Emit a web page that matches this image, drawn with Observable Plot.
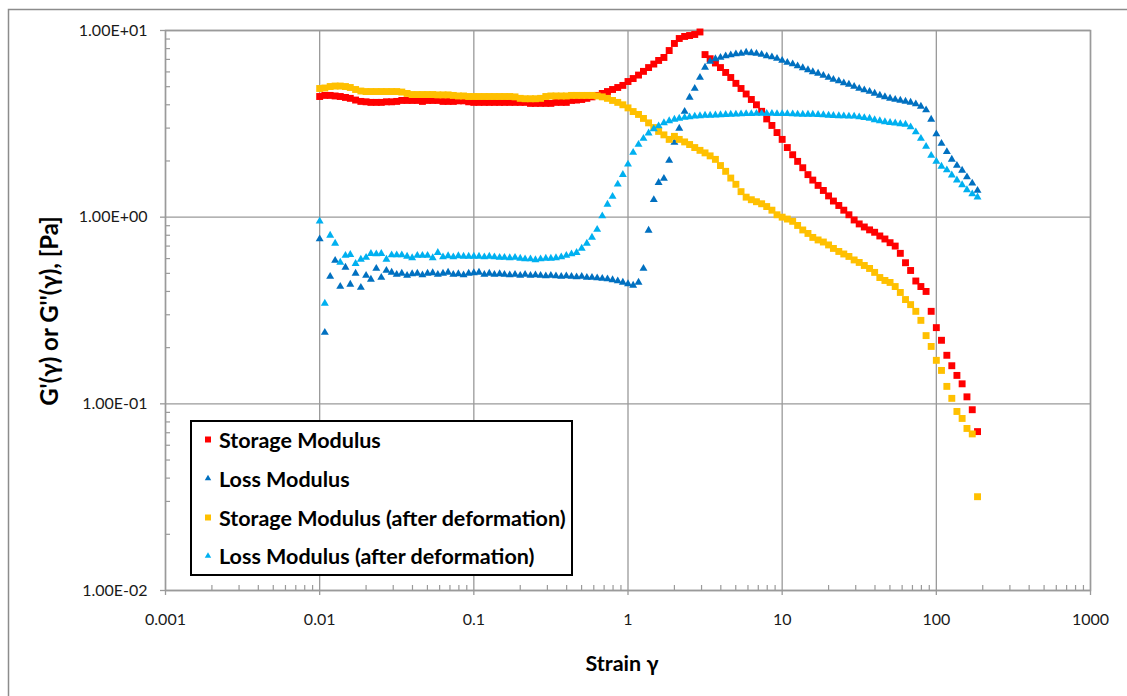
<!DOCTYPE html>
<html>
<head>
<meta charset="utf-8">
<script src="https://cdn.jsdelivr.net/npm/d3@7"></script>
<script src="https://cdn.jsdelivr.net/npm/@observablehq/plot@0.6"></script>
<style>
  body { margin: 0; background: #fff; }
  #chart { position: relative; width: 1127px; height: 696px; overflow: hidden; }
</style>
</head>
<body>
<div id="chart"></div>
<script>
// Strain sweep (shared strain points for all four series)
const strain = [
  0.01, 0.0108, 0.0117, 0.0126, 0.0136, 0.0147, 0.0158, 0.0171, 0.0185, 0.0200,
  0.0215, 0.0233, 0.0251, 0.0271, 0.0293, 0.0316, 0.0341, 0.0369, 0.0398, 0.0430,
  0.0464, 0.0501, 0.0541, 0.0584, 0.0631, 0.0681, 0.0736, 0.0794, 0.0858, 0.0926,
  0.1, 0.108, 0.117, 0.126, 0.136, 0.147, 0.158, 0.171, 0.185, 0.200,
  0.215, 0.233, 0.251, 0.271, 0.293, 0.316, 0.341, 0.369, 0.398, 0.430,
  0.464, 0.501, 0.541, 0.584, 0.631, 0.681, 0.736, 0.794, 0.858, 0.926,
  1, 1.08, 1.17, 1.26, 1.36, 1.47, 1.58, 1.71, 1.85, 2.00,
  2.15, 2.33, 2.51, 2.71, 2.93, 3.16, 3.41, 3.69, 3.98, 4.30,
  4.64, 5.01, 5.41, 5.84, 6.31, 6.81, 7.36, 7.94, 8.58, 9.26,
  10, 10.8, 11.7, 12.6, 13.6, 14.7, 15.8, 17.1, 18.5, 20.0,
  21.5, 23.3, 25.1, 27.1, 29.3, 31.6, 34.1, 36.9, 39.8, 43.0,
  46.4, 50.1, 54.1, 58.4, 63.1, 68.1, 73.6, 79.4, 85.8, 92.6,
  100, 108, 117, 126, 136, 147, 158, 171, 185
];

// G' (Pa)
const storage = [
  4.43, 4.49, 4.49, 4.46, 4.43, 4.38, 4.33, 4.24, 4.17, 4.15,
  4.12, 4.12, 4.12, 4.15, 4.15, 4.17, 4.22, 4.22, 4.22, 4.22,
  4.17, 4.22, 4.22, 4.22, 4.17, 4.17, 4.17, 4.20, 4.20, 4.15,
  4.12, 4.12, 4.12, 4.12, 4.12, 4.12, 4.12, 4.12, 4.12, 4.12,
  4.12, 4.07, 4.07, 4.07, 4.07, 4.07, 4.12, 4.12, 4.12, 4.22,
  4.24, 4.27, 4.33, 4.41, 4.49, 4.60, 4.71, 4.83, 4.95, 5.08,
  5.33, 5.53, 5.77, 6.04, 6.33, 6.61, 6.91, 7.17, 7.81, 8.52,
  9.06, 9.29, 9.40, 9.52, 9.82, 7.43, 7.06, 6.70, 6.33, 5.96,
  5.60, 5.21, 4.89, 4.57, 4.27, 4.00, 3.69, 3.36, 3.10, 2.84,
  2.61, 2.36, 2.16, 1.99, 1.84, 1.69, 1.58, 1.48, 1.39, 1.30,
  1.22, 1.155, 1.09, 1.03, 0.966, 0.92, 0.886, 0.855, 0.83, 0.793,
  0.764, 0.73, 0.70, 0.64, 0.57, 0.518, 0.455, 0.425, 0.40, 0.313,
  0.256, 0.219, 0.182, 0.16, 0.142, 0.128, 0.109, 0.093, 0.071
];

// G'' (Pa)
const loss = [
  0.764, 0.241, 0.481, 0.586, 0.425, 0.538, 0.436, 0.50, 0.42, 0.487,
  0.464, 0.531, 0.475, 0.518, 0.506, 0.493, 0.50, 0.487, 0.497, 0.50,
  0.49, 0.50, 0.503, 0.493, 0.50, 0.506, 0.493, 0.497, 0.49, 0.50,
  0.503, 0.506, 0.493, 0.50, 0.493, 0.497, 0.493, 0.49, 0.493, 0.487,
  0.493, 0.487, 0.49, 0.487, 0.484, 0.487, 0.484, 0.481, 0.484, 0.481,
  0.478, 0.481, 0.475, 0.475, 0.472, 0.469, 0.466, 0.461, 0.455, 0.447,
  0.439, 0.431, 0.447, 0.531, 0.849, 1.24, 1.53, 1.61, 2.01, 2.51,
  2.99, 3.68, 4.38, 4.89, 5.60, 6.34, 6.82, 7.04, 7.17, 7.30,
  7.39, 7.48, 7.53, 7.63, 7.58, 7.53, 7.44, 7.30, 7.21, 7.08,
  6.91, 6.74, 6.61, 6.45, 6.30, 6.15, 6.00, 5.89, 5.74, 5.60,
  5.46, 5.36, 5.23, 5.14, 5.01, 4.89, 4.80, 4.71, 4.60, 4.49,
  4.41, 4.33, 4.27, 4.22, 4.17, 4.12, 4.04, 3.92, 3.75, 3.34,
  2.79, 2.48, 2.24, 2.04, 1.89, 1.78, 1.64, 1.52, 1.39
];

// G' after deformation (Pa)
const storageAfter = [
  4.89, 4.92, 5.01, 5.04, 5.04, 5.01, 4.95, 4.83, 4.74, 4.71,
  4.71, 4.71, 4.71, 4.71, 4.71, 4.71, 4.68, 4.60, 4.54, 4.54,
  4.54, 4.54, 4.54, 4.52, 4.52, 4.52, 4.49, 4.46, 4.46, 4.43,
  4.43, 4.43, 4.43, 4.43, 4.43, 4.43, 4.43, 4.43, 4.41, 4.33,
  4.31, 4.31, 4.31, 4.33, 4.43, 4.46, 4.46, 4.46, 4.46, 4.49,
  4.49, 4.49, 4.49, 4.49, 4.46, 4.41, 4.33, 4.22, 4.12, 4.00,
  3.85, 3.68, 3.55, 3.38, 3.20, 3.02, 2.88, 2.76, 2.61, 2.71,
  2.61, 2.53, 2.45, 2.36, 2.28, 2.21, 2.13, 2.04, 1.89, 1.76,
  1.62, 1.50, 1.37, 1.28, 1.24, 1.21, 1.18, 1.14, 1.09, 1.03,
  1.00, 0.977, 0.95, 0.903, 0.854, 0.818, 0.779, 0.755, 0.736, 0.71,
  0.68, 0.655, 0.635, 0.616, 0.59, 0.572, 0.551, 0.531, 0.506, 0.475,
  0.458, 0.447, 0.425, 0.395, 0.362, 0.34, 0.313, 0.28, 0.232, 0.203,
  0.171, 0.151, 0.124, 0.107, 0.091, 0.0835, 0.0738, 0.069, 0.0318
];

// G'' after deformation (Pa)
const lossAfter = [
  0.95, 0.345, 0.798, 0.723, 0.572, 0.623, 0.63, 0.564, 0.594, 0.608,
  0.638, 0.635, 0.638, 0.594, 0.627, 0.627, 0.627, 0.616, 0.605, 0.623,
  0.623, 0.623, 0.605, 0.646, 0.612, 0.62, 0.612, 0.62, 0.616, 0.616,
  0.616, 0.616, 0.612, 0.616, 0.612, 0.608, 0.608, 0.605, 0.608, 0.601,
  0.597, 0.597, 0.59, 0.597, 0.601, 0.601, 0.605, 0.612, 0.623, 0.635,
  0.646, 0.68, 0.723, 0.779, 0.859, 1.014, 1.17, 1.29, 1.50, 1.69,
  1.92, 2.22, 2.45, 2.64, 2.82, 2.97, 3.08, 3.20, 3.28, 3.34,
  3.38, 3.42, 3.44, 3.47, 3.49, 3.51, 3.51, 3.52, 3.53, 3.54,
  3.55, 3.56, 3.57, 3.58, 3.58, 3.59, 3.59, 3.59, 3.59, 3.58,
  3.58, 3.58, 3.57, 3.56, 3.55, 3.55, 3.55, 3.54, 3.53, 3.51,
  3.50, 3.49, 3.48, 3.47, 3.47, 3.44, 3.41, 3.38, 3.32, 3.28,
  3.24, 3.21, 3.19, 3.16, 3.14, 3.04, 2.86, 2.64, 2.39, 2.14,
  1.99, 1.87, 1.79, 1.68, 1.58, 1.49, 1.40, 1.33, 1.28
];

const seriesNames = [
  "Storage Modulus",
  "Loss Modulus",
  "Storage Modulus (after deformation)",
  "Loss Modulus (after deformation)"
];
const seriesColors = ["#FF0000", "#0070C0", "#FFC000", "#00B0F0"];
const seriesSymbols = ["square", "triangle", "square", "triangle"];

const xTicks = [0.001, 0.01, 0.1, 1, 10, 100, 1000];
const xTickLabels = ["0.001", "0.01", "0.1", "1", "10", "100", "1000"];
const yTicks = [0.01, 0.1, 1, 10];
const yTickLabels = ["1.00E-02", "1.00E-01", "1.00E+00", "1.00E+01"];

const xTitle = "Strain γ";
const yTitle = "G'(γ) or G''(γ), [Pa]";

// ---- build ----
const rows = strain.map((s, i) => ({
  strain: s,
  v0: storage[i], v1: loss[i], v2: storageAfter[i], v3: lossAfter[i]
}));

const sameTick = (a, b) => Math.abs(a / b - 1) < 1e-9;
const minorX = d3.scaleLog().domain([0.001, 1000]).ticks().filter(t => !xTicks.some(m => sameTick(t, m)));
const minorY = d3.scaleLog().domain([0.01, 10]).ticks().filter(t => !yTicks.some(m => sameTick(t, m)));

const gridColor = "#9a9a9a";
const dotR = {square: 3.9, triangle: 2.95};
const noLabel = () => "";

const dots = [0, 1, 2, 3].map(k =>
  Plot.dot(rows, {
    x: "strain", y: "v" + k,
    symbol: seriesSymbols[k], r: dotR[seriesSymbols[k]],
    fill: seriesColors[k], stroke: null
  })
);

const chart = Plot.plot({
  width: 1127,
  height: 696,
  marginLeft: 165,
  marginRight: 37,
  marginTop: 30,
  marginBottom: 106,
  style: {fontFamily: "Lato, sans-serif", fontSize: "16px", color: "#1a1a1a", background: "#fff"},
  x: {type: "log", domain: [0.001, 1000]},
  y: {type: "log", domain: [0.01, 10]},
  marks: [
    Plot.gridX(xTicks, {stroke: gridColor, strokeOpacity: 1, strokeWidth: 1.3}),
    Plot.gridY(yTicks, {stroke: gridColor, strokeOpacity: 1, strokeWidth: 1.3}),
    Plot.frame({stroke: gridColor, strokeWidth: 1.5}),
    Plot.axisX(minorX, {tickSize: -5, tickFormat: noLabel, label: null, stroke: gridColor, strokeWidth: 1.2}),
    Plot.axisY(minorY, {tickSize: -5, tickFormat: noLabel, label: null, stroke: gridColor, strokeWidth: 1.2}),
    Plot.axisX(xTicks, {
      tickSize: 5, tickPadding: 18, label: null, stroke: gridColor, strokeWidth: 1.3,
      tickFormat: d => xTickLabels[xTicks.findIndex(m => sameTick(m, d))]
    }),
    Plot.axisY(yTicks, {
      tickSize: 5, tickPadding: 13, label: null, stroke: gridColor, strokeWidth: 1.3,
      tickFormat: d => yTickLabels[yTicks.findIndex(m => sameTick(m, d))]
    }),
    ...dots
  ]
});

document.getElementById("chart").appendChild(chart);

// ---- decorations: outer border, axis titles, legend ----
const svg = d3.select(chart);
svg.style("overflow", "hidden");

svg.insert("rect", ":first-child")
  .attr("x", 8.5).attr("y", 9.5)
  .attr("width", 1140).attr("height", 700)
  .attr("fill", "none").attr("stroke", "#8c8c8c").attr("stroke-width", 1.5);

const titleFont = (sel, size) => sel
  .attr("font-family", "Lato, sans-serif").attr("font-weight", 700)
  .attr("font-size", size).attr("fill", "#000");

svg.append("text")
  .attr("transform", "translate(48.5,311) rotate(-90)")
  .attr("text-anchor", "middle").attr("dominant-baseline", "central")
  .call(titleFont, 24)
  .text(yTitle);

svg.append("text")
  .attr("x", 622).attr("y", 663)
  .attr("text-anchor", "middle").attr("dominant-baseline", "central")
  .call(titleFont, 21.5)
  .text(xTitle);

const legend = svg.append("g");
legend.append("rect")
  .attr("x", 191).attr("y", 421).attr("width", 381).attr("height", 154)
  .attr("fill", "#fff").attr("stroke", "#000").attr("stroke-width", 2);

const rowY = [439.5, 478.5, 517.5, 556];
seriesNames.forEach((name, k) => {
  const g = legend.append("g").attr("transform", `translate(0,${rowY[k]})`);
  const type = seriesSymbols[k] === "square" ? d3.symbolSquare : d3.symbolTriangle;
  const size = seriesSymbols[k] === "square" ? 36 : 18;
  g.append("path")
    .attr("transform", "translate(208,0)")
    .attr("d", d3.symbol(type, size)())
    .attr("fill", seriesColors[k]);
  g.append("text")
    .attr("x", 219).attr("y", 0)
    .attr("text-anchor", "start").attr("dominant-baseline", "central")
    .call(titleFont, 21.5)
    .text(name);
});
</script>
</body>
</html>
